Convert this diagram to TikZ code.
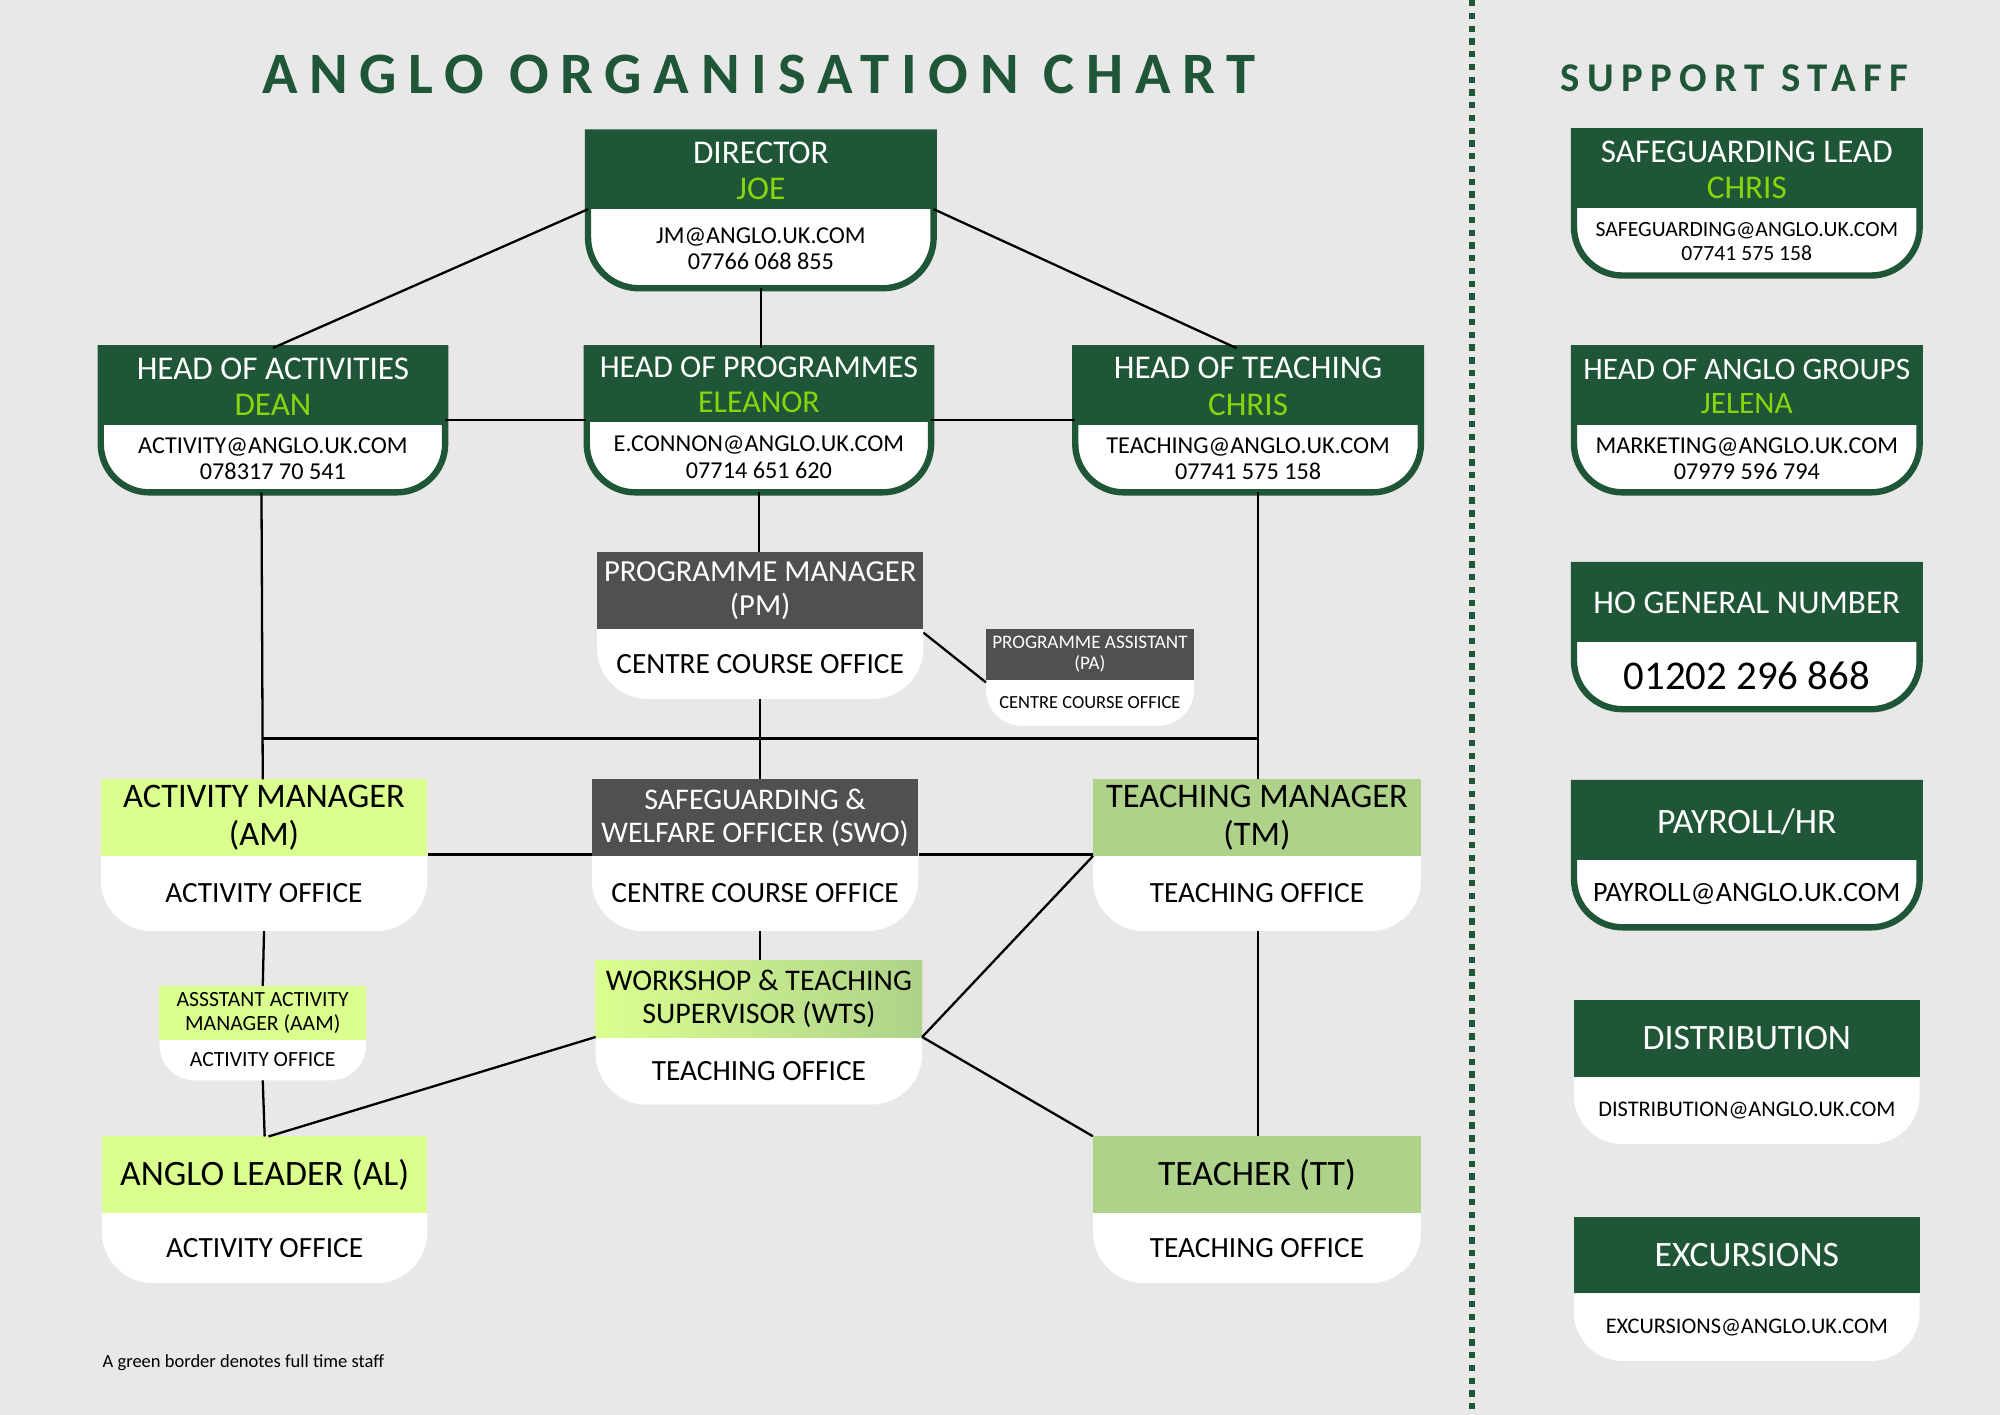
\documentclass[tikz,border=0pt]{standalone}
\usepackage{fontspec}
\setmainfont{Carlito}
\newfontfamily\spaced[LetterSpace=20]{Carlito}
\newfontfamily\spacedb[LetterSpace=18]{Carlito}
\definecolor{dkg}{HTML}{1F5637}
\definecolor{lime}{HTML}{86D60C}
\definecolor{lgr}{HTML}{DBFF8F}
\definecolor{mgr}{HTML}{AED28A}
\definecolor{gry}{HTML}{505050}
\definecolor{bg}{HTML}{E8E8E8}
\newcommand\fs[1]{\fontsize{#1}{\dimexpr#1pt*11/10\relax}\selectfont}
% name x1 x2 y1 ym y2 headfill border r
\newcommand\obox[9]{%
 \path[#7] (#2,#4) rectangle (#3,#5);
 \fill[white] (#2,#5) -- (#2,#6-#9) arc[start angle=180,end angle=90,radius=#9] -- (#3-#9,#6) arc[start angle=90,end angle=0,radius=#9] -- (#3,#5) -- cycle;
 \path[#7] (#2,#4) rectangle (#3,#5);
 \draw[#8,line width=5] (#2,#4) -- (#2,#6-#9) arc[start angle=180,end angle=90,radius=#9] -- (#3-#9,#6) arc[start angle=90,end angle=0,radius=#9] -- (#3,#4) -- cycle;
 \coordinate (#1-hl) at (#2,#5); \coordinate (#1-hr) at (#3,#5);
 \coordinate (#1-t) at ({(#2+#3)/2},#4); \coordinate (#1-b) at ({(#2+#3)/2},#6);
 \coordinate (#1-h) at ({(#2+#3)/2},{(#4+#5)/2}); \coordinate (#1-w) at ({(#2+#3)/2},{(#5+#6)/2});
 \node[inner sep=0,minimum width={#3-#2},minimum height={#6-#4}] (#1) at ({(#2+#3)/2},{(#4+#6)/2}) {};}
\tikzset{ht/.style={text=white,align=center,font=\fs{26}},
 hd/.style={text=black,align=center,font=\fs{26}},
 em/.style={align=center,font=\fs{19}},
 of/.style={align=center,font=\fs{23}},
 ln/.style={line width=1.8,black},
 fd/.style={fill=dkg}, fg/.style={fill=gry}, fl/.style={fill=lgr}, fm/.style={fill=mgr},
 bd/.style={draw=dkg}, nb/.style={draw=none}}
\begin{document}
\begin{tikzpicture}[x=1pt,y=-1pt]
\fill[bg] (0,0) rectangle (1568,1109);
\useasboundingbox (0,0) rectangle (1568,1109);
\node[text=dkg,font=\spaced\bfseries\fs{46}] (title) at (595,58) {ANGLO ORGANISATION CHART};
\node[text=dkg,font=\spacedb\bfseries\fs{32}] (stitle) at (1360,61) {SUPPORT STAFF};
\draw[dkg,line width=5,dash pattern=on 5 off 5] (1154,0) -- (1154,1109);
% boxes
\obox{dir}{461}{732}{104}{164}{226}{fd}{bd}{40}
\obox{hoa}{79}{349}{273}{333}{386}{fd}{bd}{38}
\obox{hop}{460}{730}{273}{331}{386}{fd}{bd}{38}
\obox{hot}{843}{1114}{273}{333}{386}{fd}{bd}{38}
\obox{pm}{468}{724}{433}{493}{548}{fg}{nb}{40}
\obox{pa}{773}{936}{493}{533}{569}{fg}{nb}{28}
\obox{am}{79}{335}{611}{671}{730}{fl}{nb}{40}
\obox{swo}{464}{720}{611}{671}{730}{fg}{nb}{40}
\obox{tm}{857}{1114}{611}{671}{730}{fm}{nb}{40}
\obox{aam}{125}{287}{773}{815}{847}{fl}{nb}{28}
\obox{wts}{467}{723}{753}{813}{866}{left color=lgr,right color=mgr}{nb}{40}
\obox{al}{80}{335}{891}{951}{1006}{fl}{nb}{40}
\obox{tt}{857}{1114}{891}{951}{1006}{fm}{nb}{40}
\obox{sg}{1234}{1505}{103}{163}{216}{fd}{bd}{38}
\obox{hag}{1234}{1505}{273}{333}{386}{fd}{bd}{38}
\obox{ho}{1234}{1505}{443}{503}{556}{fd}{bd}{38}
\obox{pay}{1234}{1505}{614}{674}{727}{fd}{bd}{38}
\obox{dis}{1234}{1505}{784}{844}{897}{fd}{nb}{38}
\obox{exc}{1234}{1505}{954}{1014}{1067}{fd}{nb}{38}
% texts
\node[ht] (dir-x) at (dir-h) {DIRECTOR\\\textcolor{lime}{JOE}};
\node[em] (dir-y) at (dir-w) {JM@ANGLO.UK.COM\\07766 068 855};
\node[ht] (hoa-x) at (hoa-h) {HEAD OF ACTIVITIES\\\textcolor{lime}{DEAN}};
\node[em] (hoa-y) at (hoa-w) {ACTIVITY@ANGLO.UK.COM\\078317 70 541};
\node[ht,font=\fs{25}] (hop-x) at (hop-h) {HEAD OF PROGRAMMES\\\textcolor{lime}{ELEANOR}};
\node[em] (hop-y) at (hop-w) {E.CONNON@ANGLO.UK.COM\\07714 651 620};
\node[ht] (hot-x) at (hot-h) {HEAD OF TEACHING\\\textcolor{lime}{CHRIS}};
\node[em] (hot-y) at (hot-w) {TEACHING@ANGLO.UK.COM\\07741 575 158};
\node[ht,font=\fs{24}] (pm-x) at (pm-h) {PROGRAMME MANAGER\\(PM)};
\node[of] (pm-y) at (pm-w) {CENTRE COURSE OFFICE};
\node[ht,font=\fs{15}] (pa-x) at (pa-h) {PROGRAMME ASSISTANT\\(PA)};
\node[font=\fs{14.5}] (pa-y) at (pa-w) {CENTRE COURSE OFFICE};
\node[hd,font=\fs{27}] (am-x) at (am-h) {ACTIVITY MANAGER\\(AM)};
\node[of] (am-y) at (am-w) {ACTIVITY OFFICE};
\node[ht,font=\fs{23.5}] (swo-x) at (swo-h) {SAFEGUARDING \&\\WELFARE OFFICER (SWO)};
\node[of] (swo-y) at (swo-w) {CENTRE COURSE OFFICE};
\node[hd,font=\fs{27}] (tm-x) at (tm-h) {TEACHING MANAGER\\(TM)};
\node[of] (tm-y) at (tm-w) {TEACHING OFFICE};
\node[hd,font=\fs{17}] (aam-x) at (aam-h) {ASSSTANT ACTIVITY\\MANAGER (AAM)};
\node[font=\fs{17}] (aam-y) at (aam-w) {ACTIVITY OFFICE};
\node[hd,font=\fs{23.5}] (wts-x) at (wts-h) {WORKSHOP \& TEACHING\\SUPERVISOR (WTS)};
\node[of] (wts-y) at (wts-w) {TEACHING OFFICE};
\node[hd,font=\fs{28}] (al-x) at (al-h) {ANGLO LEADER (AL)};
\node[of] (al-y) at (al-w) {ACTIVITY OFFICE};
\node[hd,font=\fs{28}] (tt-x) at (tt-h) {TEACHER (TT)};
\node[of] (tt-y) at (tt-w) {TEACHING OFFICE};
\node[ht] (sg-x) at (sg-h) {SAFEGUARDING LEAD\\\textcolor{lime}{CHRIS}};
\node[em,font=\fs{17}] (sg-y) at (sg-w) {SAFEGUARDING@ANGLO.UK.COM\\07741 575 158};
\node[ht,font=\fs{24.5}] (hag-x) at (hag-h) {HEAD OF ANGLO GROUPS\\\textcolor{lime}{JELENA}};
\node[em] (hag-y) at (hag-w) {MARKETING@ANGLO.UK.COM\\07979 596 794};
\node[ht,font=\fs{26}] (ho-x) at (ho-h) {HO GENERAL NUMBER};
\node[font=\fs{32}] (ho-y) at (ho-w) {01202 296 868};
\node[ht,font=\fs{28}] (pay-x) at (pay-h) {PAYROLL/HR};
\node[font=\fs{22}] (pay-y) at (pay-w) {PAYROLL@ANGLO.UK.COM};
\node[ht,font=\fs{28}] (dis-x) at (dis-h) {DISTRIBUTION};
\node[font=\fs{17.5}] (dis-y) at (dis-w) {DISTRIBUTION@ANGLO.UK.COM};
\node[ht,font=\fs{28}] (exc-x) at (exc-h) {EXCURSIONS};
\node[font=\fs{17.5}] (exc-y) at (exc-w) {EXCURSIONS@ANGLO.UK.COM};
\node[anchor=west,font=\fs{14.5}] (note) at (77,1068) {A green border denotes full time staff};
% connectors
\coordinate (jl) at (206,579); \coordinate (jr) at (987,579);
\coordinate (hl) at (0,329); \coordinate (ml) at (0,670);
\draw[ln] (dir-hl) -- (hoa-t |- hoa.north);
\draw[ln] (dir-hr) -- ([xshift=-9pt]hot-t);
\draw[ln] (dir-b) -- (dir-b |- hop.north);
\draw[ln] (hoa.east |- hl) -- (hop.west |- hl);
\draw[ln] (hop.east |- hl) -- (hot.west |- hl);
\draw[ln] (hop-b) -- (hop-b |- pm.north);
\draw[ln] ([yshift=-3pt]pm-hr) -- ([yshift=-2pt]pa-hl);
\draw[ln] (pm-b) -- (pm-b |- swo.north);
\draw[ln] (jl) -- (jr);
\draw[ln] ([xshift=-9pt]hoa-b) -- ([xshift=-1pt]am-t);
\draw[ln] ([xshift=8pt]hot-b) -- ([xshift=1pt]tm-t);
\draw[ln] (am.east |- ml) -- (swo.west |- ml);
\draw[ln] (swo.east |- ml) -- (tm.west |- ml);
\draw[ln] (tm-hl) -- (wts-hr);
\draw[ln] (wts-hr) -- (tt.north west);
\draw[ln] (pm-b |- swo.south) -- (pm-b |- wts.north);
\draw[ln] (am-b) -- (aam-t);
\draw[ln] (aam-b) -- (al-t);
\draw[ln] (wts-hl) -- ([xshift=3pt]al-t);
\draw[ln] ([xshift=1pt]tm-b) -- ([xshift=1pt]tt-t);
\end{tikzpicture}
\end{document}
